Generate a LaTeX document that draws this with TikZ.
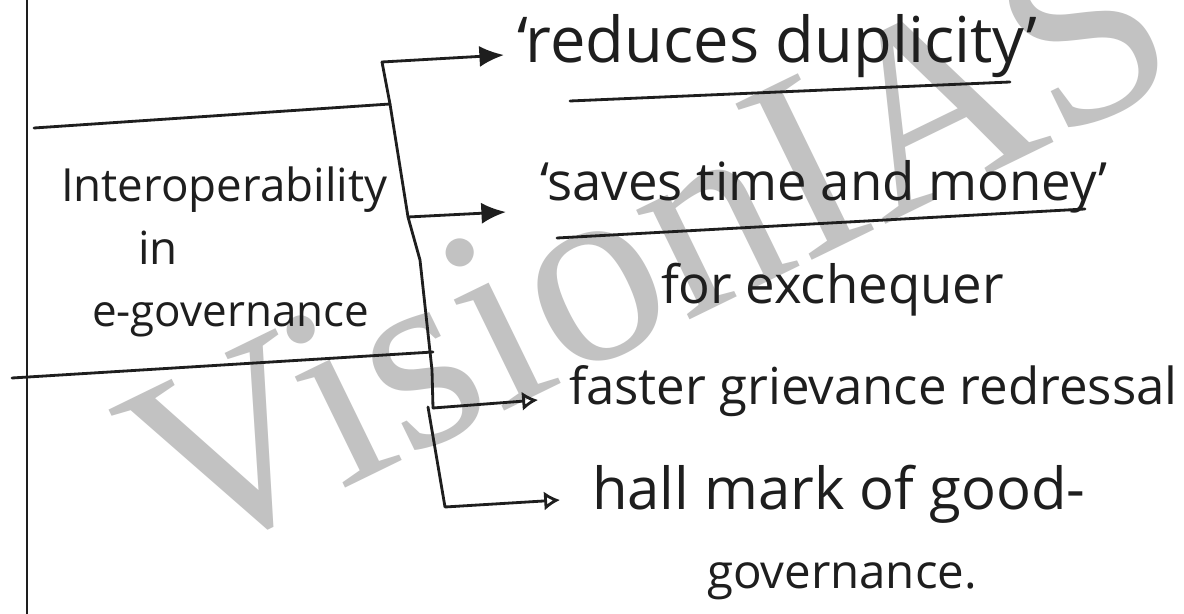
\documentclass[tikz,border=0pt]{standalone}
\usepackage{fontspec}
\setmainfont{Open Sans}
\newfontfamily\wmfont{Liberation Serif}
\usepackage{tikz}
\usetikzlibrary{arrows.meta}
\usetikzlibrary{positioning}
\definecolor{ink}{HTML}{1E1E1E}
\definecolor{wmgray}{HTML}{C2C2C2}

\begin{document}
\begin{tikzpicture}[x=0.02cm,y=-0.02cm,
pen/.style={draw=ink,line width=1.6pt,line cap=round,line join=round},
hand/.style={inner sep=0,outer sep=0,anchor=base west,text=ink,
             font=\fontsize{#1}{#1}\selectfont},
fullhead/.style={-{Latex[length=14pt,width=12pt]}},
openhead/.style={-{Latex[open,length=9pt,width=11pt]}}]
\clip (0,0) rectangle (1184,614);
\fill[white] (0,0) rectangle (1184,614);
%==================
\node[text=wmgray,font=\wmfont\fontsize{151}{151}\selectfont,inner sep=0,
      anchor=base west,rotate=26] (wm) at (182,568) {VisionIAS};
%==================
\draw[pen] (27,0) -- (27,614);
\draw[pen] (34,128) -- (390,104);
\draw[pen] (12,378) -- (433,352);
%==================
\node[hand=26] (inter) at (61,202) {Interoperability};
\node[hand=26] (inw) at (138,265) {in};
\node[hand=25] (egov) at (92,327) {e-governance};
% ===================
\node[hand=36] (red) at (517,63) {‘reduces duplicity’};
\node[hand=30] (sav) at (540,201) {‘saves time and money’};
\node[hand=30] (exch) at (661,304) {for exchequer};
\node[hand=29] (fast) at (569,405) {faster grievance redressal};
\node[hand=33] (hall) at (592,510) {hall mark of good-};
\node[hand=27] (gov) at (707,589) {governance.};
% ===================
\coordinate (brtop) at (382,62);
\coordinate (brmid) at (408,217);
\coordinate (brlow) at (433,408);
\coordinate (brsub) at (428,407);
\coordinate (brbot) at (445,507);
\coordinate (tipa) at (504,55);
\coordinate (tipb) at (506,212);
\coordinate (tipc) at (538,400);
\coordinate (tipd) at (560,500);
\draw[pen] (brtop) -- (390,104) -- (brmid) -- (420,260) -- (432,370) -- (brlow);
\draw[pen,fullhead] (brtop) -- (tipa);
\draw[pen,fullhead] (brmid) -- (tipb);
\draw[pen,openhead] (brlow) -- (tipc);
\draw[pen,openhead] (brsub) -- (brbot) -- (tipd);
% ===================
\draw[pen] (570,101) -- (1010,82);
\draw[pen] (557,238) -- (1085,209);
\end{tikzpicture}
\end{document}
